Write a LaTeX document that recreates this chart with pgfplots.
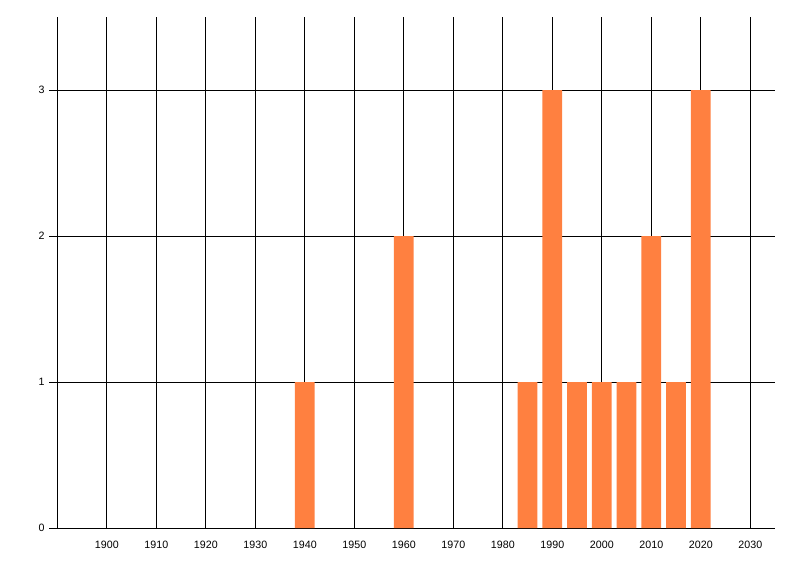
\documentclass[border=0pt]{standalone}
\usepackage{fontspec}
\setmainfont{Liberation Sans}
\usepackage{pgfplots}
\pgfplotsset{compat=1.18}
\definecolor{barorange}{RGB}{255,128,64}
\begin{document}
\begin{tikzpicture}
\useasboundingbox (0,0) rectangle (600pt,432pt);
\begin{axis}[
  at={(43pt,36pt)}, anchor=south west,
  scale only axis,
  width=538.3pt, height=383.25pt,
  xmin=1890, xmax=2035, ymin=0, ymax=3.5,
  axis x line=bottom, axis y line=left,
  axis line style={-, black, line width=0.75pt},
  xtick={1900,1910,...,2030}, ytick={0,1,2,3},
  x tick label style={/pgf/number format/1000 sep={}},
  xmajorgrids, ymajorgrids,
  grid style={black, line width=0.75pt},
  tick align=outside,
  x tick style={draw=none},
  y tick style={black, line width=0.75pt},
  major tick length=6pt,
  tick label style={font=\fontsize{8}{9.6}\selectfont, text=black},
  /pgf/number format/assume math mode=true,
  ybar, bar width=4, bar shift=0pt,
  clip=false,
]
\addplot[fill=barorange, draw=none] coordinates {
(1940,1) (1960,2) (1985,1) (1990,3) (1995,1) (2000,1) (2005,1) (2010,2) (2015,1) (2020,3)
};
\end{axis}
\end{tikzpicture}
\end{document}
